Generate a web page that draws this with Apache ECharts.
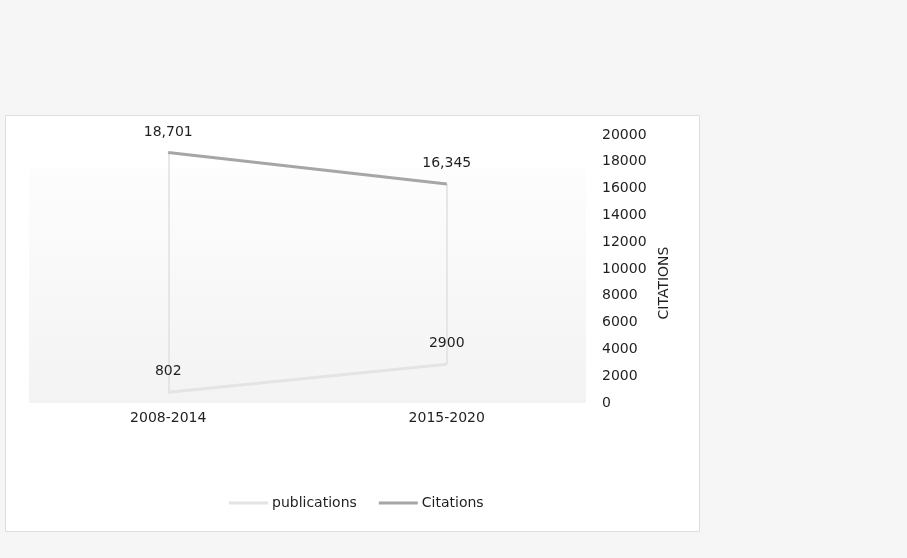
<!DOCTYPE html>
<html>
<head>
<meta charset="utf-8">
<script src="https://cdn.jsdelivr.net/npm/echarts@6/dist/echarts.min.js"></script>
<style>
html,body{margin:0;padding:0;background:#f6f6f6;}
#chart{width:907px;height:558px;}
</style>
</head>
<body>
<div id="chart"></div>
<script>
var categories = ['2008-2014', '2015-2020'];
var publications = [802, 2900];
var citations = [18701, 16345];
var yTicks = [0, 20000, 2000]; // min, max, interval
var axisName = 'CITATIONS';
var seriesNames = ['publications', 'Citations'];

var font = 'DejaVu Sans';
var txt = '#1f1f1f';

var dropLines = categories.map(function (c, i) {
  return [{ coord: [c, publications[i]] }, { coord: [c, citations[i]] }];
});

var chart = echarts.init(document.getElementById('chart'), null, { renderer: 'canvas' });
chart.setOption({
  backgroundColor: '#f6f6f6',
  animation: false,
  textStyle: { fontFamily: font },
  graphic: [{
    type: 'rect', z: -10, silent: true,
    shape: { x: 5.5, y: 115.5, width: 694, height: 416 },
    style: { fill: '#ffffff', stroke: '#dedede', lineWidth: 1 }
  }],
  grid: {
    left: 29, right: 321, top: 135, bottom: 155, show: true, borderWidth: 0,
    backgroundColor: {
      type: 'linear', x: 0, y: 0, x2: 0, y2: 1,
      colorStops: [
        { offset: 0, color: '#ffffff' },
        { offset: 0.12, color: '#ffffff' },
        { offset: 0.125, color: '#fdfdfd' },
        { offset: 1, color: '#f3f3f3' }
      ]
    }
  },
  legend: {
    left: 229, top: 496, padding: 0,
    itemWidth: 39, itemHeight: 3, itemGap: 22,
    icon: 'rect',
    textStyle: { fontFamily: font, fontSize: 14, color: txt, padding: [0, 0, 0, -1] },
    data: seriesNames
  },
  xAxis: {
    type: 'category', data: categories, boundaryGap: true,
    axisLine: { show: false }, axisTick: { show: false }, splitLine: { show: false },
    axisLabel: { fontFamily: font, fontSize: 14, color: txt, margin: 8 }
  },
  yAxis: {
    type: 'value', position: 'right',
    min: yTicks[0], max: yTicks[1], interval: yTicks[2],
    axisLine: { show: false }, axisTick: { show: false }, splitLine: { show: false },
    axisLabel: { fontFamily: font, fontSize: 14, color: txt, margin: 16,
      formatter: function (v) { return String(v); } },
    name: axisName, nameLocation: 'middle', nameRotate: 90, nameGap: 70,
    nameTextStyle: { fontFamily: font, fontSize: 14, color: txt, padding: [0, 28, 0, 0] }
  },
  series: [
    {
      name: seriesNames[0], type: 'line', data: publications,
      color: '#e4e4e4',
      symbol: 'circle', symbolSize: 1, showSymbol: true,
      lineStyle: { color: '#e4e4e4', width: 3 },
      itemStyle: { color: '#e4e4e4' },
      label: { show: true, position: 'top', distance: 13, fontFamily: font, fontSize: 14, color: txt },
      z: 3
    },
    {
      name: seriesNames[1], type: 'line', data: citations,
      color: '#a6a6a6',
      symbol: 'circle', symbolSize: 1, showSymbol: true,
      lineStyle: { color: '#a6a6a6', width: 3 },
      itemStyle: { color: '#a6a6a6' },
      label: {
        show: true, position: 'top', distance: 13, fontFamily: font, fontSize: 14, color: txt,
        formatter: function (p) { return p.value.toLocaleString('en-US'); }
      },
      markLine: {
        silent: true, symbol: 'none', label: { show: false },
        lineStyle: { color: '#e0e0e0', width: 1.5, type: 'solid' },
        data: dropLines, z: 1
      },
      z: 4
    }
  ]
});
</script>
</body>
</html>
